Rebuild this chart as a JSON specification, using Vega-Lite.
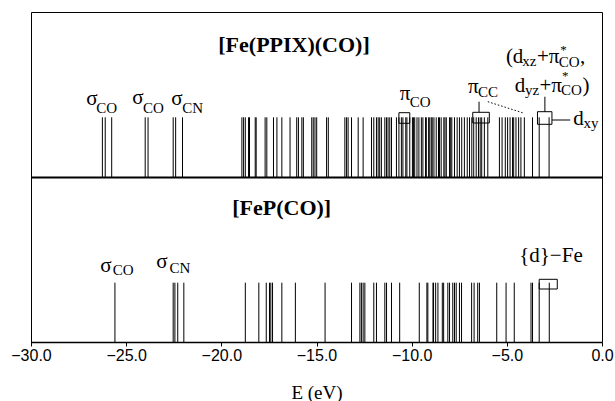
{
  "$schema": "https://vega.github.io/schema/vega-lite/v6.json",
  "width": 571,
  "height": 330,
  "autosize": {"type": "none"},
  "padding": {"left": 31, "right": 13, "top": 12, "bottom": 59},
  "background": "white",
  "config": {"view": {"stroke": "black", "strokeWidth": 1}},
  "datasets": {
    "top": [
      {"E": -26.25}, {"E": -26.1}, {"E": -25.76}, {"E": -24.0}, {"E": -23.85}, {"E": -22.53}, {"E": -22.4}, {"E": -22.04},
      {"E": -18.92}, {"E": -18.83}, {"E": -18.74}, {"E": -18.57}, {"E": -18.52}, {"E": -18.22}, {"E": -18.17}, {"E": -17.70},
      {"E": -17.61}, {"E": -17.26}, {"E": -17.08}, {"E": -16.82}, {"E": -16.39}, {"E": -16.04}, {"E": -15.95}, {"E": -15.77},
      {"E": -15.69}, {"E": -15.25}, {"E": -15.17}, {"E": -15.08}, {"E": -14.99}, {"E": -14.47}, {"E": -14.38}, {"E": -13.51},
      {"E": -13.42}, {"E": -13.34}, {"E": -13.16}, {"E": -12.81}, {"E": -12.55}, {"E": -12.11}, {"E": -11.99}, {"E": -11.85},
      {"E": -11.76}, {"E": -11.68}, {"E": -11.59}, {"E": -11.41}, {"E": -11.32}, {"E": -11.24}, {"E": -11.15}, {"E": -11.06},
      {"E": -10.80}, {"E": -10.67}, {"E": -10.54}, {"E": -10.46}, {"E": -10.31}, {"E": -10.25}, {"E": -10.10}, {"E": -9.96},
      {"E": -9.90}, {"E": -9.84}, {"E": -9.72}, {"E": -9.62}, {"E": -9.49}, {"E": -9.41}, {"E": -9.27}, {"E": -9.23},
      {"E": -9.11}, {"E": -9.05}, {"E": -8.97}, {"E": -8.92}, {"E": -8.83}, {"E": -8.71}, {"E": -8.59}, {"E": -8.54},
      {"E": -8.45}, {"E": -8.31}, {"E": -8.25}, {"E": -8.18}, {"E": -8.01}, {"E": -7.95}, {"E": -7.89}, {"E": -7.75},
      {"E": -7.61}, {"E": -7.49}, {"E": -7.37}, {"E": -7.23}, {"E": -7.08}, {"E": -6.96}, {"E": -6.84}, {"E": -6.74},
      {"E": -6.61}, {"E": -6.49}, {"E": -6.40}, {"E": -6.32}, {"E": -6.18}, {"E": -6.00}, {"E": -5.39}, {"E": -5.25},
      {"E": -5.08}, {"E": -4.96}, {"E": -4.83}, {"E": -4.70}, {"E": -4.64}, {"E": -4.52}, {"E": -4.38}, {"E": -4.26},
      {"E": -4.08}, {"E": -3.65}, {"E": -3.30}, {"E": -2.78}
    ],
    "bot": [
      {"E": -25.59}, {"E": -22.53}, {"E": -22.44}, {"E": -22.29}, {"E": -21.97}, {"E": -18.74}, {"E": -18.03}, {"E": -17.64},
      {"E": -17.47}, {"E": -17.40}, {"E": -17.31}, {"E": -16.82}, {"E": -16.11}, {"E": -14.55}, {"E": -13.16}, {"E": -12.72},
      {"E": -12.64}, {"E": -12.55}, {"E": -12.46}, {"E": -11.99}, {"E": -11.85}, {"E": -11.41}, {"E": -11.32}, {"E": -11.06},
      {"E": -10.63}, {"E": -9.60}, {"E": -9.20}, {"E": -9.15}, {"E": -8.88}, {"E": -8.85}, {"E": -8.74}, {"E": -8.62},
      {"E": -8.39}, {"E": -8.32}, {"E": -8.10}, {"E": -8.01}, {"E": -7.84}, {"E": -7.75}, {"E": -7.66}, {"E": -7.49},
      {"E": -7.38}, {"E": -6.85}, {"E": -6.72}, {"E": -6.53}, {"E": -6.44}, {"E": -5.53}, {"E": -5.04}, {"E": -4.61},
      {"E": -3.73}, {"E": -3.65}, {"E": -3.30}, {"E": -2.77}
    ],
    "boxes": [
      {"x1": -10.67, "x2": -10.10, "y1": 218.7, "y2": 229.3},
      {"x1": -6.79, "x2": -5.92, "y1": 219, "y2": 229.7},
      {"x1": -3.39, "x2": -2.63, "y1": 217.7, "y2": 230.3},
      {"x1": -3.3, "x2": -2.35, "y1": 53, "y2": 62.7}
    ],
    "links": [
      {"x1": -6.46, "y1": 229.7, "x2": -6.46, "y2": 240.3},
      {"x1": -3.0, "y1": 230.3, "x2": -3.0, "y2": 245.3},
      {"x1": -2.63, "y1": 222, "x2": -1.67, "y2": 222}
    ],
    "dots": [
      {"x1": -6.0, "y1": 240.3, "x2": -4.08, "y2": 228.7}
    ],
    "main": [
      {"x": -27.10, "y": 237, "t": "σ"},
      {"x": -24.68, "y": 238.5, "t": "σ"},
      {"x": -22.63, "y": 237, "t": "σ"},
      {"x": -10.63, "y": 242, "t": "π"},
      {"x": -7.04, "y": 248.7, "t": "π"},
      {"x": -5.05, "y": 278.7, "t": "(d"},
      {"x": -3.42, "y": 278.7, "t": "+π"},
      {"x": -1.16, "y": 278.7, "t": ","},
      {"x": -4.58, "y": 250.3, "t": "d"},
      {"x": -3.29, "y": 250.3, "t": "+π"},
      {"x": -1.03, "y": 250.3, "t": ")"},
      {"x": -1.51, "y": 217, "t": "d"},
      {"x": -26.36, "y": 70.3, "t": "σ"},
      {"x": -23.42, "y": 73.7, "t": "σ"},
      {"x": -4.35, "y": 80.3, "t": "{d}−Fe"}
    ],
    "sub": [
      {"x": -26.57, "y": 228.7, "t": "CO"},
      {"x": -24.12, "y": 229, "t": "CO"},
      {"x": -22.05, "y": 228.7, "t": "CN"},
      {"x": -10.10, "y": 235.3, "t": "CO"},
      {"x": -6.51, "y": 245.3, "t": "CC"},
      {"x": -4.19, "y": 276, "t": "xz"},
      {"x": -2.27, "y": 275.3, "t": "CO"},
      {"x": -4.05, "y": 247, "t": "yz"},
      {"x": -2.16, "y": 247, "t": "CO"},
      {"x": -0.97, "y": 214, "t": "xy"},
      {"x": -25.70, "y": 67, "t": "CO"},
      {"x": -22.72, "y": 68.7, "t": "CN"}
    ],
    "sup": [
      {"x": -2.2, "y": 292.5, "t": "*"},
      {"x": -2.1, "y": 266.5, "t": "*"}
    ],
    "titles": [
      {"x": -16.18, "y": 290.3, "t": "[Fe(PPIX)(CO)]"},
      {"x": -16.83, "y": 127, "t": "[FeP(CO)]"}
    ]
  },
  "layer": [
    {
      "data": {"name": "top"},
      "mark": {"type": "rule", "color": "black", "strokeWidth": 1},
      "encoding": {
        "x": {
          "field": "E", "type": "quantitative",
          "scale": {"domain": [-30, 0], "nice": false, "zero": false},
          "axis": {
            "title": "E (eV)",
            "values": [-30, -25, -20, -15, -10, -5, 0],
            "format": ".1f",
            "grid": false,
            "labelFont": "Liberation Sans", "labelFontSize": 16, "labelColor": "black",
            "labelPadding": 1, "labelFlush": false,
            "tickColor": "black", "tickSize": 4, "tickWidth": 1,
            "domainColor": "black", "domainWidth": 1.5,
            "titleFont": "Liberation Serif", "titleFontSize": 19, "titleFontWeight": "normal",
            "titleColor": "black", "titlePadding": 20
          }
        },
        "y": {"datum": 164.5, "type": "quantitative", "scale": {"domain": [0, 330], "nice": false, "zero": false}, "axis": null},
        "y2": {"datum": 224.7}
      }
    },
    {
      "data": {"name": "bot"},
      "mark": {"type": "rule", "color": "black", "strokeWidth": 1},
      "encoding": {
        "x": {"field": "E", "type": "quantitative"},
        "y": {"datum": 0, "type": "quantitative"},
        "y2": {"datum": 59.3}
      }
    },
    {
      "data": {"values": [{"k": 1}]},
      "mark": {"type": "rule", "color": "black", "strokeWidth": 2},
      "encoding": {
        "y": {"datum": 164.5, "type": "quantitative"}
      }
    },
    {
      "data": {"name": "boxes"},
      "mark": {"type": "rect", "fill": null, "fillOpacity": 0, "stroke": "black", "strokeWidth": 1},
      "encoding": {
        "x": {"field": "x1", "type": "quantitative"},
        "x2": {"field": "x2"},
        "y": {"field": "y1", "type": "quantitative"},
        "y2": {"field": "y2"}
      }
    },
    {
      "data": {"name": "links"},
      "mark": {"type": "rule", "color": "black", "strokeWidth": 1},
      "encoding": {
        "x": {"field": "x1", "type": "quantitative"},
        "x2": {"field": "x2"},
        "y": {"field": "y1", "type": "quantitative"},
        "y2": {"field": "y2"}
      }
    },
    {
      "data": {"name": "dots"},
      "mark": {"type": "rule", "color": "black", "strokeWidth": 1, "strokeDash": [1.5, 2]},
      "encoding": {
        "x": {"field": "x1", "type": "quantitative"},
        "x2": {"field": "x2"},
        "y": {"field": "y1", "type": "quantitative"},
        "y2": {"field": "y2"}
      }
    },
    {
      "data": {"name": "main"},
      "mark": {"type": "text", "align": "left", "baseline": "alphabetic", "font": "Liberation Serif", "fontSize": 21, "color": "black"},
      "encoding": {
        "x": {"field": "x", "type": "quantitative"},
        "y": {"field": "y", "type": "quantitative"},
        "text": {"field": "t"}
      }
    },
    {
      "data": {"name": "sub"},
      "mark": {"type": "text", "align": "left", "baseline": "alphabetic", "font": "Liberation Serif", "fontSize": 15, "color": "black"},
      "encoding": {
        "x": {"field": "x", "type": "quantitative"},
        "y": {"field": "y", "type": "quantitative"},
        "text": {"field": "t"}
      }
    },
    {
      "data": {"name": "sup"},
      "mark": {"type": "text", "align": "left", "baseline": "middle", "font": "Liberation Serif", "fontSize": 13, "color": "black"},
      "encoding": {
        "x": {"field": "x", "type": "quantitative"},
        "y": {"field": "y", "type": "quantitative"},
        "text": {"field": "t"}
      }
    },
    {
      "data": {"name": "titles"},
      "mark": {"type": "text", "align": "center", "baseline": "alphabetic", "font": "Liberation Serif", "fontSize": 22, "fontWeight": "bold", "color": "black"},
      "encoding": {
        "x": {"field": "x", "type": "quantitative"},
        "y": {"field": "y", "type": "quantitative"},
        "text": {"field": "t"}
      }
    }
  ]
}
